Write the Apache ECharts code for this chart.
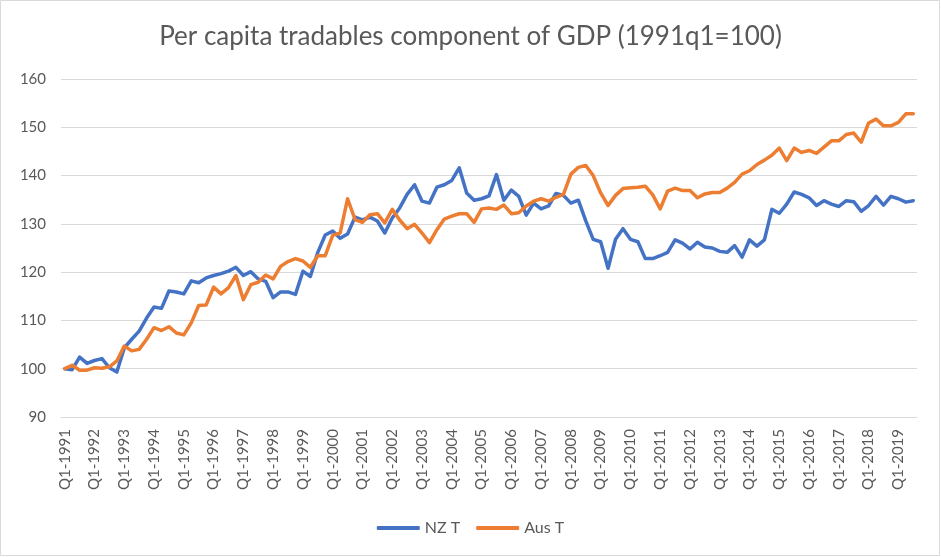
<!DOCTYPE html>
<html>
<head>
<meta charset="utf-8">
<script src="https://cdn.jsdelivr.net/npm/echarts@6/dist/echarts.min.js"></script>
<style>
html,body{margin:0;padding:0;background:#fff;}
#chart{width:941px;height:557px;}
</style>
</head>
<body>
<div id="chart"></div>
<script>
const titleText = 'Per capita tradables component of GDP (1991q1=100)';
const seriesNames = ['NZ T', 'Aus T'];
const years = [1991,1992,1993,1994,1995,1996,1997,1998,1999,2000,2001,2002,2003,2004,2005,2006,2007,2008,2009,2010,2011,2012,2013,2014,2015,2016,2017,2018,2019];
const quarters = ['Q1','Q2','Q3','Q4'];
const lastQuarterCount = 115;
const yTicks = [90,100,110,120,130,140,150,160];

const nzT = [
100.0,99.8,102.4,101.1,101.7,102.1,100.2,99.3,
104.3,106.1,107.8,110.5,112.8,112.5,116.1,115.9,
115.5,118.2,117.8,118.8,119.3,119.7,120.2,121.0,
119.3,120.1,118.6,118.1,114.7,115.9,115.9,115.4,
120.2,119.1,124.1,127.7,128.5,127.0,127.9,131.4,
130.8,131.4,130.6,128.1,131.2,133.3,136.1,138.1,
134.7,134.3,137.6,138.1,139.0,141.6,136.4,134.9,
135.2,135.8,140.2,134.9,137.0,135.7,131.8,134.3,
133.1,133.7,136.3,135.9,134.3,134.9,130.6,126.8,
126.3,120.8,126.8,129.0,126.8,126.3,122.8,122.8,
123.4,124.1,126.7,126.0,124.8,126.2,125.2,125.0,
124.3,124.1,125.5,123.1,126.7,125.4,126.7,133.0,
132.2,134.1,136.6,136.1,135.4,133.8,134.8,134.1,
133.6,134.8,134.6,132.6,133.8,135.7,133.9,135.7,
135.2,134.5,134.8
];

const ausT = [
100.0,100.7,99.7,99.7,100.2,100.1,100.4,101.6,
104.7,103.7,104.0,106.1,108.5,107.9,108.7,107.4,
107.0,109.5,113.1,113.2,116.9,115.5,116.8,119.3,
114.3,117.4,117.9,119.4,118.6,121.2,122.2,122.8,
122.3,121.0,123.4,123.4,127.6,128.1,135.2,130.9,
130.3,131.9,132.1,130.2,133.0,130.8,129.0,129.9,
128.1,126.1,128.8,131.0,131.6,132.1,132.1,130.3,
133.1,133.3,133.0,133.9,132.1,132.3,133.7,134.7,
135.2,134.7,135.5,136.1,140.3,141.7,142.1,140.0,
136.4,133.8,135.9,137.3,137.5,137.6,137.8,136.0,
133.1,136.8,137.4,136.9,136.9,135.4,136.2,136.5,
136.5,137.4,138.6,140.3,141.0,142.3,143.2,144.2,
145.7,143.1,145.7,144.8,145.2,144.6,145.9,147.2,
147.2,148.5,148.8,146.9,150.9,151.7,150.3,150.3,
151.0,152.8,152.8
];

const categories = [];
years.forEach(y => quarters.forEach(q => categories.push(q + '-' + y)));
categories.length = lastQuarterCount;

const chart = echarts.init(document.getElementById('chart'), null, {renderer: 'canvas'});
const axisFont = 'Lato, "Open Sans", sans-serif';
chart.setOption({
  animation: false,
  backgroundColor: '#ffffff',
  graphic: [{
    type: 'rect', silent: true,
    shape: {x: 0.5, y: 0.5, width: 939, height: 555},
    style: {fill: 'none', stroke: '#d9d9d9', lineWidth: 1}
  }],
  title: {
    text: titleText,
    left: 'center',
    top: 19,
    textStyle: {fontFamily: axisFont, fontSize: 26, fontWeight: 'normal', color: '#595959'}
  },
  legend: {
    data: seriesNames,
    left: 'center',
    top: 515,
    icon: 'roundRect',
    itemWidth: 43,
    itemHeight: 4,
    itemGap: 16,
    textStyle: {fontFamily: axisFont, fontSize: 16, color: '#595959'}
  },
  grid: {left: 61, right: 24, top: 79, bottom: 140, containLabel: false},
  xAxis: {
    type: 'category',
    data: categories,
    boundaryGap: true,
    axisLine: {show: true, lineStyle: {color: '#d9d9d9', width: 1}},
    axisTick: {show: false},
    axisLabel: {
      interval: 3,
      rotate: 90,
      margin: 12,
      fontFamily: axisFont,
      fontSize: 15,
      color: '#595959'
    },
    splitLine: {show: false}
  },
  yAxis: {
    type: 'value',
    min: yTicks[0],
    max: yTicks[yTicks.length - 1],
    interval: 10,
    axisLine: {show: false},
    axisTick: {show: false},
    axisLabel: {margin: 15, fontFamily: axisFont, fontSize: 15, color: '#595959'},
    splitLine: {lineStyle: {color: '#d9d9d9', width: 1}}
  },
  series: [
    {
      name: seriesNames[0], type: 'line', data: nzT, symbol: 'none', smooth: false,
      color: '#4472C4',
      lineStyle: {color: '#4472C4', width: 3.5, join: 'round', cap: 'round'}
    },
    {
      name: seriesNames[1], type: 'line', data: ausT, symbol: 'none', smooth: false,
      color: '#ED7D31',
      lineStyle: {color: '#ED7D31', width: 3.5, join: 'round', cap: 'round'}
    }
  ]
});
</script>
</body>
</html>
